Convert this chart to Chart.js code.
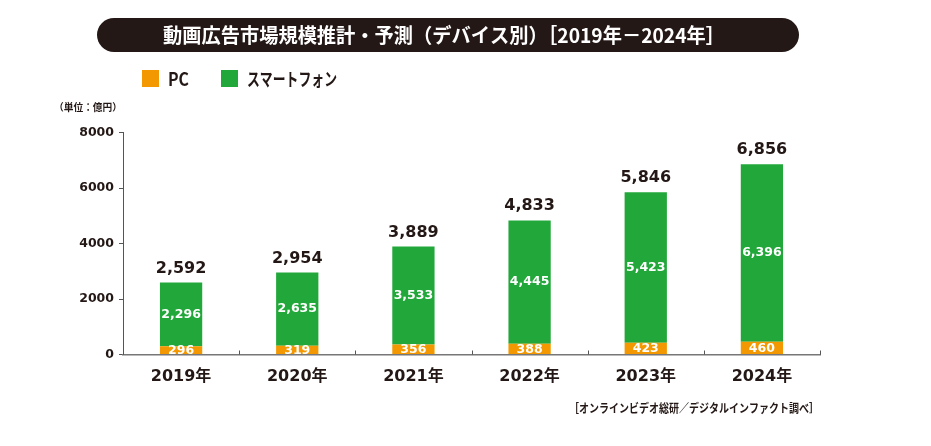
<!DOCTYPE html>
<html><head><meta charset="utf-8">
<script src="https://cdn.jsdelivr.net/npm/chart.js@4.4.1/dist/chart.umd.min.js"></script>
<style>html,body{margin:0;padding:0;background:#fff;}#wrap{width:931px;height:446px;position:relative;}</style>
</head><body><div id="wrap"><canvas id="c" width="931" height="446"></canvas></div>
<script>
const categories = ['2019年','2020年','2021年','2022年','2023年','2024年'];
const pcValues = [296, 319, 356, 388, 423, 460];
const smartphoneValues = [2296, 2635, 3533, 4445, 5423, 6396];
const totalValues = [2592, 2954, 3889, 4833, 5846, 6856];
const seriesNames = ['PC', 'スマートフォン'];
const yTicks = [0, 2000, 4000, 6000, 8000];
const titleText = '動画広告市場規模推計・予測（デバイス別）［2019年－2024年］';
const unitText = '（単位：億円）';
const sourceText = '［オンラインビデオ総研／デジタルインファクト調べ］';

const ORANGE = '#f39800', GREEN = '#22a83a', DARK = '#231815';
const NUM = "'DejaVu Sans', 'Noto Sans CJK JP', sans-serif";
const JP = "'Noto Sans CJK JP', sans-serif";
const fmt = v => v.toLocaleString('en-US');

function fitText(ctx, text, x, y, w) {
  const m = ctx.measureText(text).width;
  ctx.save();
  ctx.translate(x, y);
  ctx.scale(w / m, 1);
  ctx.textAlign = 'left';
  ctx.fillText(text, 0, 0);
  ctx.restore();
}

const decor = {
  id: 'decor',
  beforeDraw(chart) {
    const ctx = chart.ctx;
    ctx.save();
    ctx.fillStyle = DARK;
    ctx.beginPath();
    ctx.roundRect(97, 18, 702, 34, 17);
    ctx.fill();
    ctx.fillStyle = '#fff';
    ctx.font = "bold 20px " + JP;
    ctx.textBaseline = 'middle';
    fitText(ctx, titleText, 163, 35.5, 562);
    ctx.fillStyle = ORANGE; ctx.fillRect(142, 70, 17, 17);
    ctx.fillStyle = GREEN; ctx.fillRect(221, 70, 17, 17);
    ctx.fillStyle = DARK;
    ctx.font = "bold 18px " + JP;
    fitText(ctx, seriesNames[0], 168, 79, 21);
    fitText(ctx, seriesNames[1], 247, 79, 90);
    ctx.font = "bold 10px " + JP;
    fitText(ctx, unitText, 54, 107, 68);
    ctx.font = "bold 12px " + JP;
    fitText(ctx, sourceText, 569, 408, 250);
    ctx.restore();
  },
  afterDatasetsDraw(chart) {
    const ctx = chart.ctx;
    const m0 = chart.getDatasetMeta(0), m1 = chart.getDatasetMeta(1);
    ctx.save();
    ctx.textAlign = 'center';
    m0.data.forEach((bar, i) => {
      ctx.fillStyle = '#fff';
      ctx.font = "bold 12.5px " + NUM;
      ctx.textBaseline = 'middle';
      ctx.fillText(fmt(pcValues[i]), bar.x, (bar.y + bar.base) / 2 + 0.5);
      const g = m1.data[i];
      ctx.fillText(fmt(smartphoneValues[i]), g.x, (g.y + g.base) / 2);
      ctx.fillStyle = DARK;
      ctx.font = "bold 16px " + NUM;
      ctx.textBaseline = 'alphabetic';
      ctx.fillText(fmt(totalValues[i]), g.x, g.y - 10);
    });
    const xs = chart.scales.x;
    ctx.strokeStyle = '#555';
    ctx.lineWidth = 1;
    for (let i = 1; i <= categories.length; i++) {
      const px = Math.round(xs.getPixelForValue(i - 0.5)) + 0.5;
      ctx.beginPath(); ctx.moveTo(px, xs.top); ctx.lineTo(px, xs.top - 4); ctx.stroke();
    }
    ctx.restore();
  }
};

new Chart(document.getElementById('c'), {
  type: 'bar',
  data: {
    labels: categories,
    datasets: [
      { label: seriesNames[0], data: pcValues, backgroundColor: ORANGE, barPercentage: 0.364, categoryPercentage: 1 },
      { label: seriesNames[1], data: smartphoneValues, backgroundColor: GREEN, barPercentage: 0.364, categoryPercentage: 1 }
    ]
  },
  options: {
    responsive: false,
    animation: false,
    devicePixelRatio: 1,
    layout: { autoPadding: false, padding: { left: 0, top: 132.5, right: 111, bottom: 51.5 } },
    plugins: { legend: { display: false }, tooltip: { enabled: false } },
    scales: {
      x: {
        stacked: true,
        afterFit(s) { s.height = 40; },
        grid: { display: false },
        border: { display: true, color: '#777', width: 1.5 },
        ticks: { color: DARK, font: { family: NUM, size: 16, weight: 'bold' }, padding: 5 }
      },
      y: {
        stacked: true,
        min: 0, max: 8000,
        afterFit(s) { s.width = 123; },
        afterBuildTicks(s) { s.ticks = yTicks.map(v => ({ value: v })); },
        grid: { drawOnChartArea: false, tickLength: 4, color: '#555' },
        border: { display: true, color: '#555', width: 1 },
        ticks: { color: DARK, font: { family: NUM, size: 12.5, weight: 'bold' }, padding: 5, callback: v => String(v) }
      }
    }
  },
  plugins: [decor]
});
</script></body></html>
